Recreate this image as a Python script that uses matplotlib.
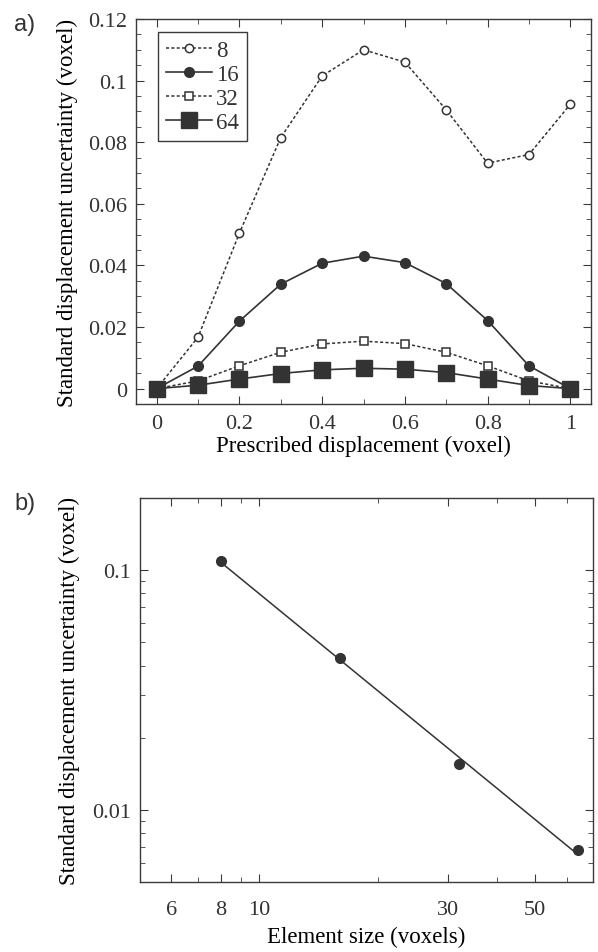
import matplotlib
matplotlib.use('Agg')
import matplotlib.pyplot as plt
import numpy as np
from matplotlib.ticker import MultipleLocator, FixedLocator, NullFormatter, FixedFormatter, LogLocator

# prescribed displacement (voxel)
disp = [0, 0.1, 0.2, 0.3, 0.4, 0.5, 0.6, 0.7, 0.8, 0.9, 1.0]
# uncertainty per element size
u8 = [0, 0.0167, 0.0505, 0.0815, 0.1015, 0.1100, 0.1060, 0.0905, 0.0732, 0.0760, 0.0923]
u16 = [0, 0.0073, 0.0219, 0.0339, 0.0407, 0.0430, 0.0409, 0.0341, 0.0221, 0.0074, 0]
u32 = [0, 0.0025, 0.0074, 0.0118, 0.0145, 0.0154, 0.0146, 0.0118, 0.0074, 0.0025, 0]
u64 = [0, 0.0011, 0.0031, 0.0049, 0.0061, 0.0066, 0.0063, 0.0052, 0.0031, 0.0010, 0]

# panel b
elem_size = [8, 16, 32, 64]
u_max = [0.1094, 0.0430, 0.0155, 0.0068]

plt.rcParams['font.family'] = ['Liberation Serif', 'DejaVu Serif']
plt.rcParams['font.size'] = 16
plt.rcParams['axes.edgecolor'] = '#3a3a3a'
plt.rcParams['axes.linewidth'] = 1.0
plt.rcParams['xtick.color'] = '#3a3a3a'
plt.rcParams['ytick.color'] = '#3a3a3a'
plt.rcParams['xtick.labelcolor'] = '#333333'
plt.rcParams['ytick.labelcolor'] = '#333333'
plt.rcParams['text.color'] = '#333333'

c = '#333333'

fig = plt.figure(figsize=(5.98, 9.53), dpi=100)
W, H = 598, 953
ax1 = fig.add_axes([136 / W, 1 - 405 / H, (591 - 136) / W, (405 - 20) / H])
ax2 = fig.add_axes([140 / W, 1 - 883 / H, (593 - 140) / W, (883 - 499) / H])

def style(ax, xpad):
    ax.tick_params(which='both', direction='in', top=True, right=True)
    ax.tick_params(which='major', length=6, labelsize=16)
    ax.tick_params(axis='x', which='major', pad=xpad)
    ax.tick_params(axis='y', which='major', pad=6.5)
    ax.tick_params(which='minor', length=3.5)

# a)
ax1.plot(disp, u8, ls=(0, (2, 1.5)), lw=1.1, color=c, marker='o', ms=6,
         mfc='white', mec=c, mew=1.1, label='8')
ax1.plot(disp, u16, ls='-', lw=1.2, color=c, marker='o', ms=7,
         mfc=c, mec=c, label='16')
ax1.plot(disp, u32, ls=(0, (2, 1.5)), lw=1.1, color=c, marker='s', ms=5.5,
         mfc='white', mec=c, mew=1.1, label='32')
ax1.plot(disp, u64, ls='-', lw=1.2, color=c, marker='s', ms=11,
         mfc=c, mec=c, label='64')
ax1.set_xlim(-0.05, 1.05)
ax1.set_ylim(-0.005, 0.12)
ax1.set_xticks([0, 0.2, 0.4, 0.6, 0.8, 1.0])
ax1.set_xticklabels(['0', '0.2', '0.4', '0.6', '0.8', '1'])
ax1.xaxis.set_minor_locator(MultipleLocator(0.1))
ax1.set_yticks([0, 0.02, 0.04, 0.06, 0.08, 0.1, 0.12])
ax1.set_yticklabels(['0', '0.02', '0.04', '0.06', '0.08', '0.1', '0.12'])
ax1.yaxis.set_minor_locator(MultipleLocator(0.005))
style(ax1, 7)
ax1.set_xlabel('Prescribed displacement (voxel)', fontsize=16.5)
ax1.set_ylabel('Standard displacement uncertainty (voxel)', fontsize=16.5)
ax1.xaxis.set_label_coords(0.5, -0.08)
ax1.yaxis.set_label_coords(-0.128, 0.5)
leg = ax1.legend(loc='upper left', bbox_to_anchor=(0.048, 0.966), fontsize=16.5,
                 fancybox=False, framealpha=1, edgecolor='#3a3a3a',
                 handlelength=2.0, handletextpad=0.2, labelspacing=0.12,
                 borderpad=0.35, borderaxespad=0)
leg.get_frame().set_linewidth(1.0)

# b) power-law fit through the points
p = np.polyfit(np.log10(elem_size), np.log10(u_max), 1)
xf = np.array([elem_size[0], elem_size[-1]])
ax2.plot(xf, 10 ** np.polyval(p, np.log10(xf)), color=c, lw=1.1)
ax2.plot(elem_size, u_max, ls='none', marker='o', ms=7, color=c)
ax2.set_xscale('log')
ax2.set_yscale('log')
ax2.set_xlim(5, 70)
ax2.set_ylim(0.005, 0.2)
ax2.xaxis.set_major_locator(FixedLocator([6, 8, 10, 30, 50]))
ax2.xaxis.set_major_formatter(FixedFormatter(['6', '8', '10', '30', '50']))
ax2.xaxis.set_minor_locator(FixedLocator([5, 7, 9, 20, 40, 60, 70]))
ax2.xaxis.set_minor_formatter(NullFormatter())
ax2.yaxis.set_major_locator(FixedLocator([0.01, 0.1]))
ax2.yaxis.set_major_formatter(FixedFormatter(['0.01', '0.1']))
ax2.yaxis.set_minor_locator(LogLocator(base=10, subs=np.arange(2, 10)))
ax2.yaxis.set_minor_formatter(NullFormatter())
style(ax2, 13)
ax2.set_xlabel('Element size (voxels)', fontsize=16.5)
ax2.set_ylabel('Standard displacement uncertainty (voxel)', fontsize=16.5)
ax2.xaxis.set_label_coords(0.5, -0.113)
ax2.yaxis.set_label_coords(-0.133, 0.5)

fig.text(14 / W, 1 - 31 / H, 'a)', fontsize=17, family='Liberation Sans', color='#333333')
fig.text(14 / W, 1 - 510 / H, 'b)', fontsize=17, family='Liberation Sans', color='#333333')

fig.savefig('out.png', dpi=100)
